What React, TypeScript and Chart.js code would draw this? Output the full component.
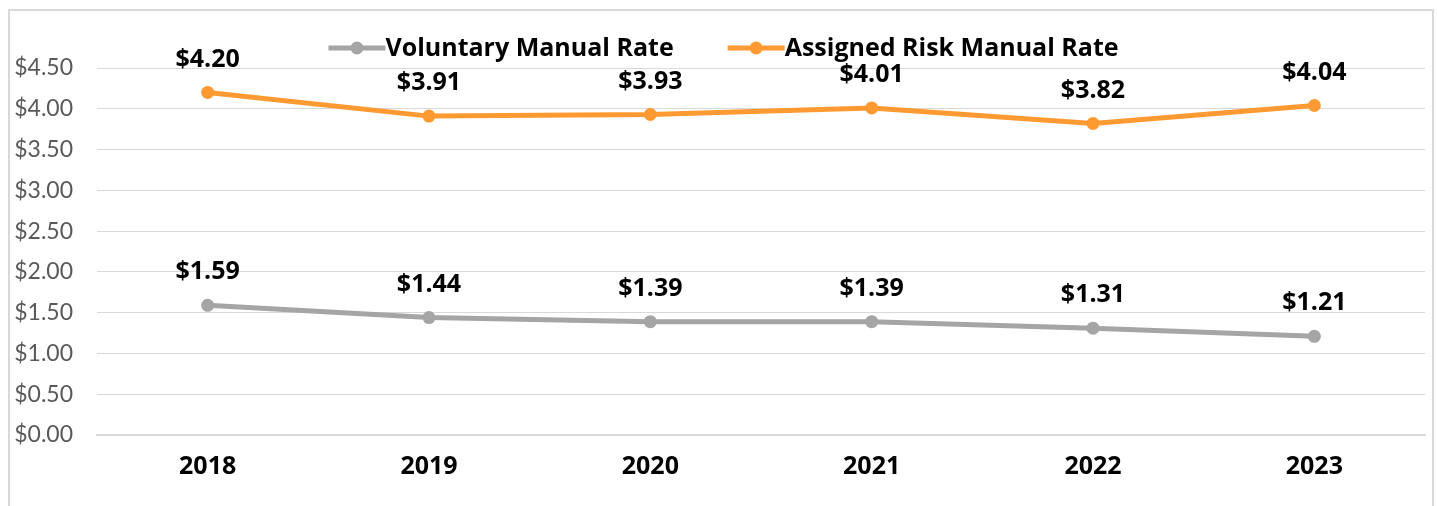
import React, { useEffect, useRef } from "react";
import { Chart, registerables } from "chart.js";

Chart.register(...registerables);

const years = ["2018", "2019", "2020", "2021", "2022", "2023"];
const voluntaryRates = [1.59, 1.44, 1.39, 1.39, 1.31, 1.21];
const assignedRiskRates = [4.2, 3.91, 3.93, 4.01, 3.82, 4.04];
const seriesNames = ["Voluntary Manual Rate", "Assigned Risk Manual Rate"];
const seriesColors = ["#A5A5A5", "#FF9A33"];
const yMin = 0;
const yMax = 4.5;
const yStep = 0.5;

const BOLD_FONT = "'Open Sans', 'Lato', sans-serif";
const TICK_FONT = "'Lato', 'Open Sans', sans-serif";

const valueLabelPlugin = {
  id: "valueLabels",
  afterDatasetsDraw(chart: any) {
    const ctx = chart.ctx;
    ctx.save();
    ctx.font = `bold 25px ${BOLD_FONT}`;
    ctx.fillStyle = "#000000";
    ctx.textAlign = "center";
    ctx.textBaseline = "middle";
    chart.data.datasets.forEach((ds: any, i: number) => {
      const meta = chart.getDatasetMeta(i);
      meta.data.forEach((pt: any, j: number) => {
        ctx.fillText("$" + Number(ds.data[j]).toFixed(2), pt.x, pt.y - 33);
      });
    });
    ctx.restore();
  },
};

const legendPlugin = {
  id: "customLegend",
  afterDraw(chart: any) {
    const ctx = chart.ctx;
    ctx.save();
    ctx.font = `bold 25px ${BOLD_FONT}`;
    ctx.textBaseline = "middle";
    ctx.textAlign = "left";
    const lineLen = 57;
    const gap = 54;
    const widths = chart.data.datasets.map((d: any) => ctx.measureText(d.label).width);
    const total = widths.reduce((a: number, w: number) => a + w + lineLen, 0) + gap * (widths.length - 1);
    let x = chart.width / 2 + 5 - total / 2;
    const y = 48;
    chart.data.datasets.forEach((d: any, i: number) => {
      ctx.strokeStyle = d.borderColor;
      ctx.lineWidth = 5;
      ctx.lineCap = "butt";
      ctx.beginPath();
      ctx.moveTo(x, y);
      ctx.lineTo(x + lineLen, y);
      ctx.stroke();
      ctx.fillStyle = d.borderColor;
      ctx.beginPath();
      ctx.arc(x + lineLen / 2, y, 6.5, 0, Math.PI * 2);
      ctx.fill();
      ctx.fillStyle = "#000000";
      ctx.fillText(d.label, x + lineLen, y + 1);
      x += lineLen + widths[i] + gap;
    });
    ctx.restore();
  },
};

export default function App() {
  const canvasRef = useRef<HTMLCanvasElement | null>(null);

  useEffect(() => {
    if (!canvasRef.current) return;
    const chart = new Chart(canvasRef.current, {
      type: "line",
      data: {
        labels: years,
        datasets: [
          {
            label: seriesNames[0],
            data: voluntaryRates,
            borderColor: seriesColors[0],
            backgroundColor: seriesColors[0],
            borderWidth: 5,
            pointRadius: 6.5,
            pointHoverRadius: 6.5,
            pointBorderWidth: 0,
            tension: 0,
          },
          {
            label: seriesNames[1],
            data: assignedRiskRates,
            borderColor: seriesColors[1],
            backgroundColor: seriesColors[1],
            borderWidth: 5,
            pointRadius: 6.5,
            pointHoverRadius: 6.5,
            pointBorderWidth: 0,
            tension: 0,
          },
        ],
      },
      options: {
        animation: false,
        responsive: true,
        maintainAspectRatio: false,
        layout: { padding: { top: 68, right: 12, left: 0, bottom: 0 } },
        plugins: {
          legend: { display: false },
          tooltip: { enabled: false },
        },
        scales: {
          x: {
            offset: true,
            grid: { display: false, drawTicks: false },
            border: { display: true, color: "#D9D9D9", width: 2 },
            ticks: {
              padding: 17,
              color: "#000000",
              font: { family: BOLD_FONT, size: 25, weight: "bold" },
            },
            afterFit(scale: any) {
              scale.height = 71;
            },
          },
          y: {
            min: yMin,
            max: yMax,
            grid: {
              drawTicks: false,
              color: "#D9D9D9",
              lineWidth: 1,
            },
            border: { display: false },
            ticks: {
              stepSize: yStep,
              padding: 24,
              color: "#595959",
              font: { family: TICK_FONT, size: 23 },
              callback: (v: any) => "$" + Number(v).toFixed(2),
            },
            afterFit(scale: any) {
              scale.width = 97;
            },
          },
        },
      },
      plugins: [valueLabelPlugin, legendPlugin],
    });
    return () => chart.destroy();
  }, []);

  return (
    <div style={{ position: "absolute", left: 0, top: 0, width: 1437, height: 506, overflow: "hidden", background: "#fff" }}>
      <div
        style={{
          position: "absolute",
          left: 8,
          top: 9,
          width: 1426,
          height: 520,
          border: "2px solid #D9D9D9",
          boxSizing: "border-box",
        }}
      />
      <div style={{ position: "absolute", left: 0, top: 0, width: 1437, height: 506 }}>
        <canvas ref={canvasRef} />
      </div>
    </div>
  );
}
